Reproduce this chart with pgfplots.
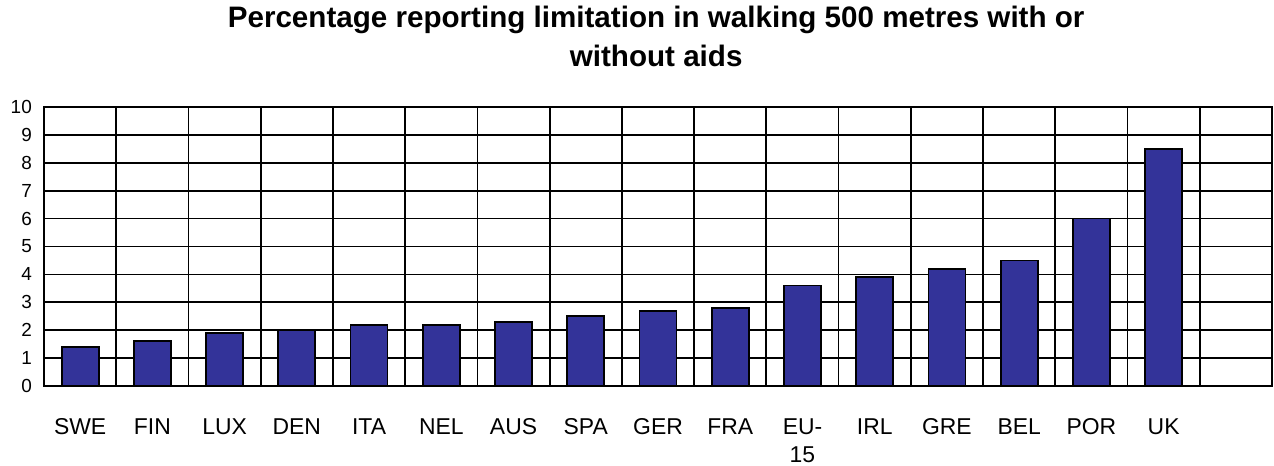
\documentclass[border=0pt]{standalone}
\usepackage{pgfplots}
\pgfplotsset{compat=1.18}
\usepackage{fontspec}
\setmainfont{Liberation Sans}
\definecolor{barblue}{HTML}{333399}
% fixed line height so every category name sits on one baseline
\newcommand\lab[1]{\rule{0pt}{17.5bp}#1}

\begin{document}
\begin{tikzpicture}
\begin{axis}[
    scale only axis,
    width=1228bp, height=279bp,
    xmin=0, xmax=17, ymin=0, ymax=10,
    ytick={0,1,...,10},
    xtick={0.5,1.5,...,15.5},
    xticklabels={\lab{SWE},\lab{FIN},\lab{LUX},\lab{DEN},\lab{ITA},\lab{NEL},\lab{AUS},\lab{SPA},
        \lab{GER},\lab{FRA},{\lab{EU-}\\15},\lab{IRL},\lab{GRE},\lab{BEL},\lab{POR},\lab{UK}},
    minor xtick={1,2,...,16},
    xminorgrids, ymajorgrids,
    grid style={black, line width=1.8pt},
    minor grid style={black, line width=1.8pt},
    axis line style={black, line width=1.8pt},
    major tick length=0pt, minor tick length=0pt,
    tick style={draw=none},
    /pgf/number format/assume math mode=true,
    yticklabel style={font=\fontsize{19}{22}\selectfont, anchor=east, inner sep=0pt, xshift=-12bp},
    xticklabel style={font=\fontsize{23}{28}\selectfont, align=center, anchor=north,
        inner sep=0pt, yshift=-31bp},
    clip=false,
]
\addplot[ybar, bar width=37bp, fill=barblue, draw=black, line width=1.8pt] coordinates {
    (0.5,1.4) (1.5,1.6) (2.5,1.9) (3.5,2.0) (4.5,2.2) (5.5,2.2) (6.5,2.3) (7.5,2.5)
    (8.5,2.7) (9.5,2.8) (10.5,3.6) (11.5,3.9) (12.5,4.2) (13.5,4.5) (14.5,6.0) (15.5,8.5)
};
\node[anchor=base, font=\bfseries\fontsize{29.7}{34}\selectfont, inner sep=0pt]
    at ([yshift=79bp]rel axis cs:0.4985,1) {Percentage reporting limitation in walking 500 metres with or};
\node[anchor=base, font=\bfseries\fontsize{29.7}{34}\selectfont, inner sep=0pt]
    at ([yshift=40bp]rel axis cs:0.4985,1) {without aids};
\coordinate (ll) at (rel axis cs:0,0);
\coordinate (ur) at (rel axis cs:1,1);
\end{axis}
\pgfresetboundingbox
\path[use as bounding box] ([xshift=-44bp,yshift=-79bp]ll) rectangle ([xshift=2bp,yshift=107bp]ur);
\end{tikzpicture}
\end{document}
